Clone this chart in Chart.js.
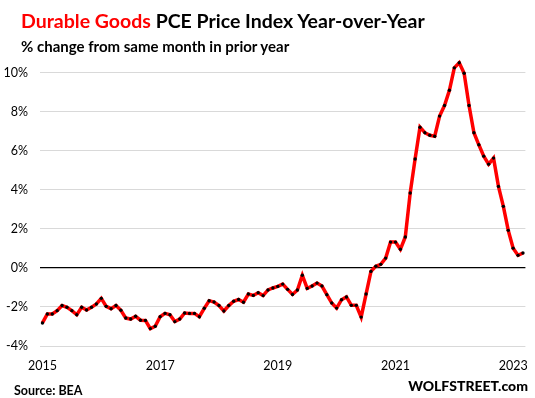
<!DOCTYPE html>
<html>
<head>
<meta charset="utf-8">
<script src="https://cdn.jsdelivr.net/npm/chart.js@4.4.1/dist/chart.umd.min.js"></script>
<style>
  html, body { margin: 0; padding: 0; background: #fff; }
  #wrap { position: relative; width: 535px; height: 398px; overflow: hidden; }
  #c { position: absolute; left: 0; top: 0; }
  .t { position: absolute; white-space: nowrap; font-family: Lato, "Open Sans", sans-serif; font-weight: bold; color: #000; }
  #title { left: 21px; top: 9px; font-size: 19.5px; }
  #title .red { color: #ff0000; }
  #sub { left: 21px; top: 37px; font-size: 15px; }
  #src { left: 14px; top: 383px; font-size: 12.5px; }
  #wolf { right: 7px; top: 377px; font-size: 14px; font-weight: 900; }
</style>
</head>
<body>
<div id="wrap">
  <canvas id="c" width="535" height="398"></canvas>
  <div class="t" id="title"><span class="red">Durable Goods</span> PCE Price Index Year-over-Year</div>
  <div class="t" id="sub">% change from same month in prior year</div>
  <div class="t" id="src">Source: BEA</div>
  <div class="t" id="wolf">WOLFSTREET.com</div>
</div>
<script>
// ---- data ----
const startYear = 2015;
const endYear = 2023;
const endMonth = 3; // last month in 2023 (March)
const monthNames = ['01','02','03','04','05','06','07','08','09','10','11','12'];
const categories = [];
for (let y = startYear; y <= endYear; y++) {
  for (let m = 0; m < 12; m++) {
    if (y === endYear && m >= endMonth) break;
    categories.push(y + '-' + monthNames[m]);
  }
}
// YoY % change, durable goods PCE price index (Jan 2015 - Mar 2023)
const yoyValues = [
  -2.82, -2.36, -2.36, -2.19, -1.93, -2.02, -2.19, -2.40, -2.02, -2.16, -2.02, -1.85,
  -1.56, -1.97, -2.09, -1.93, -2.17, -2.57, -2.62, -2.48, -2.68, -2.69, -3.11, -2.99,
  -2.50, -2.33, -2.40, -2.75, -2.62, -2.31, -2.33, -2.33, -2.50, -2.07, -1.68, -1.75,
  -1.93, -2.21, -1.93, -1.71, -1.62, -1.76, -1.34, -1.41, -1.27, -1.42, -1.13, -1.03,
  -0.95, -0.83, -1.10, -1.36, -1.13, -0.38, -1.05, -0.93, -0.78, -0.93, -1.37, -1.80,
  -2.06, -1.63, -1.49, -1.92, -1.92, -2.52, -1.34, -0.18, 0.08, 0.18, 0.50, 1.32,
  1.32, 0.95, 1.58, 3.83, 5.57, 7.20, 6.92, 6.79, 6.74, 7.77, 8.31, 9.09,
  10.24, 10.50, 9.96, 8.31, 6.92, 6.30, 5.72, 5.31, 5.62, 4.17, 3.15, 1.92,
  1.01, 0.64, 0.76
];
const xTickLabels = ['2015', '2017', '2019', '2021', '2023'];
const yTickValues = [-4, -2, 0, 2, 4, 6, 8, 10];

const FONT = 'Lato, "Open Sans", sans-serif';

new Chart(document.getElementById('c'), {
  type: 'line',
  data: {
    labels: categories,
    datasets: [{
      data: yoyValues,
      borderColor: '#ff0000',
      borderWidth: 3.5,
      tension: 0,
      pointRadius: 1.7,
      pointHoverRadius: 1.7,
      pointBackgroundColor: '#000',
      pointBorderWidth: 0,
      fill: false
    }]
  },
  options: {
    responsive: false,
    animation: false,
    events: [],
    layout: { padding: { top: 53, right: 7, left: 0, bottom: 0 } },
    plugins: { legend: { display: false }, tooltip: { enabled: false }, title: { display: false } },
    scales: {
      x: {
        type: 'category',
        offset: true,
        grid: { display: false, drawTicks: false },
        border: { display: false },
        ticks: {
          autoSkip: false,
          maxRotation: 0,
          padding: 12,
          color: '#000',
          font: { family: FONT, size: 12.5 },
          callback: function(value, index) {
            const lab = categories[index];
            const yr = lab.slice(0, 4);
            return (lab.slice(5) === '01' && xTickLabels.includes(yr)) ? yr : '';
          }
        },
        afterFit: function(scale) { scale.height = 52; }
      },
      y: {
        min: -4,
        max: 11,
        grid: {
          drawTicks: false,
          color: ctx => (ctx.tick && ctx.tick.value === 0) ? '#000' : '#d9d9d9',
          lineWidth: ctx => (ctx.tick && ctx.tick.value === 0) ? 1.3 : 1
        },
        border: { display: false },
        afterBuildTicks: function(scale) { scale.ticks = yTickValues.map(v => ({ value: v })); },
        ticks: {
          padding: 12,
          color: '#000',
          font: { family: FONT, size: 12.5 },
          callback: v => v + '%'
        },
        afterFit: function(scale) { scale.width = 40; }
      }
    }
  }
});
</script>
</body>
</html>
